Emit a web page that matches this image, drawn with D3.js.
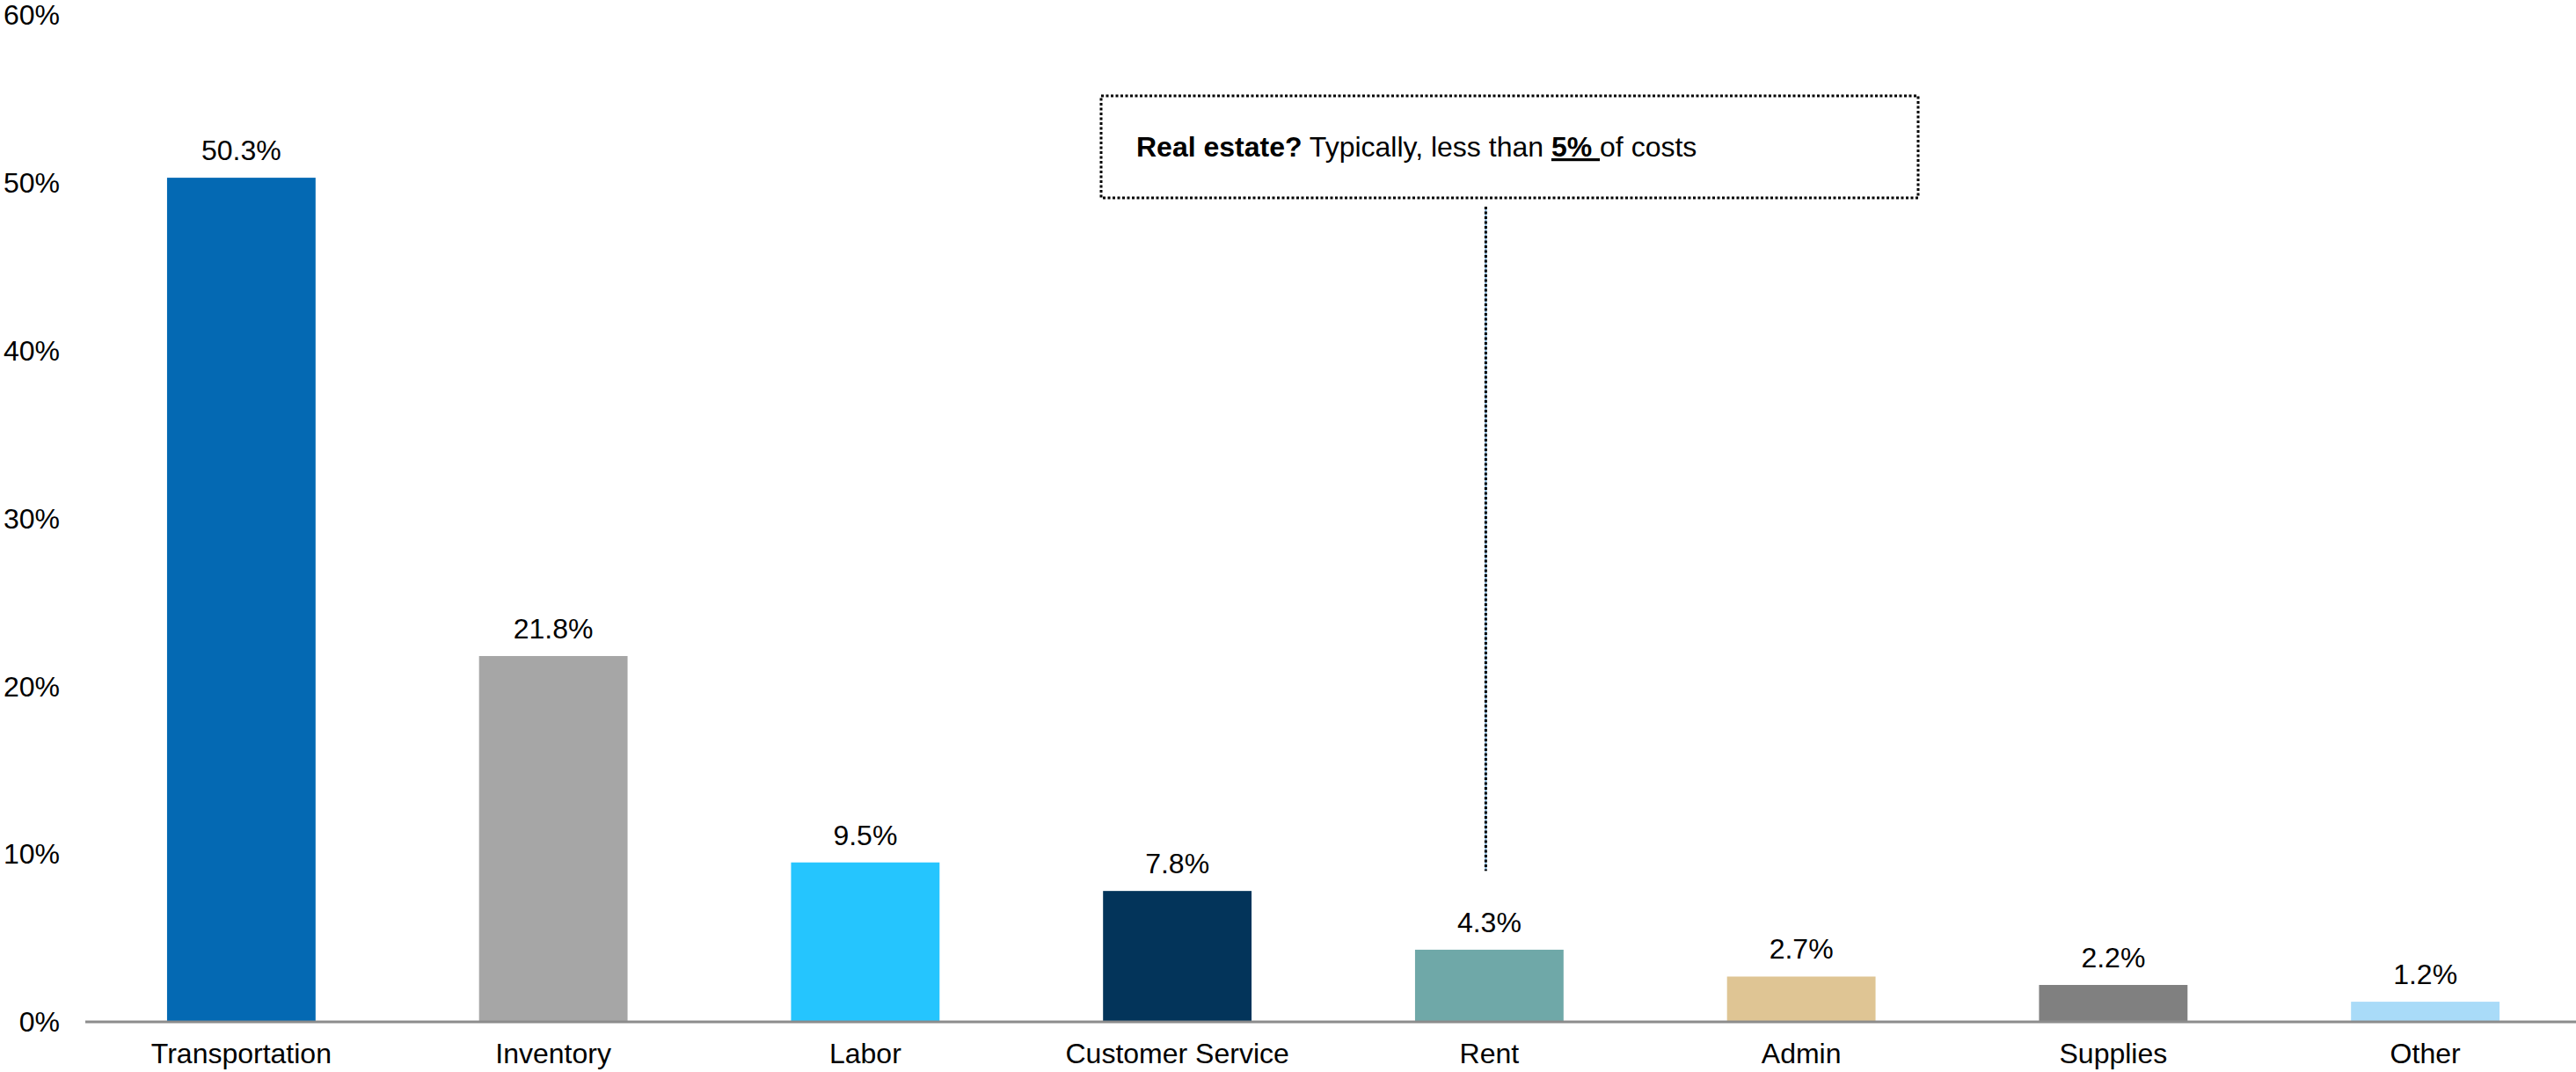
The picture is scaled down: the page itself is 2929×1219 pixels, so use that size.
<!DOCTYPE html>
<html>
<head>
<meta charset="utf-8">
<script src="https://cdn.jsdelivr.net/npm/d3@7/dist/d3.min.js"></script>
<style>
  html, body { margin: 0; padding: 0; background: #ffffff; }
  svg { display: block; font-family: "Liberation Sans", Arial, sans-serif; }
</style>
</head>
<body>
<svg id="chart" width="2929" height="1219"></svg>
<script>
// Share of logistics cost by category (%)
const categories = ["Transportation", "Inventory", "Labor", "Customer Service", "Rent", "Admin", "Supplies", "Other"];
const values = [50.3, 21.8, 9.5, 7.8, 4.3, 2.7, 2.2, 1.2];
const barColors = ["#0469b3", "#a6a6a6", "#25c5fe", "#03345a", "#6fa8a8", "#dfc594", "#808080", "#a9dbf8"];
const yTicks = [0, 10, 20, 30, 40, 50, 60];

const svg = d3.select("#chart");
const W = 2929;
const fontSize = 32;

const x = d3.scaleBand()
  .domain(categories)
  .range([97, 2935])
  .paddingInner(0.524)
  .paddingOuter(0.262);

const y = d3.scaleLinear()
  .domain([0, 60])
  .range([1162, 17]);

// y tick labels (no axis line, no gridlines)
svg.append("g")
  .selectAll("text")
  .data(yTicks)
  .join("text")
  .attr("x", 68)
  .attr("y", d => y(d))
  .attr("dy", "0.35em")
  .attr("text-anchor", "end")
  .attr("font-size", fontSize)
  .attr("fill", "#000")
  .text(d => d + "%");

// bars
svg.append("g")
  .selectAll("rect")
  .data(values)
  .join("rect")
  .attr("x", (d, i) => x(categories[i]))
  .attr("y", d => y(d))
  .attr("width", x.bandwidth())
  .attr("height", d => y(0) - y(d))
  .attr("fill", (d, i) => barColors[i]);

// value labels above bars
svg.append("g")
  .selectAll("text")
  .data(values)
  .join("text")
  .attr("x", (d, i) => x(categories[i]) + x.bandwidth() / 2)
  .attr("y", d => y(d) - 20)
  .attr("text-anchor", "middle")
  .attr("font-size", fontSize)
  .attr("fill", "#000")
  .text(d => d.toFixed(1) + "%");

// category axis
const xAxis = svg.append("g")
  .attr("transform", `translate(0,${y(0)})`)
  .call(d3.axisBottom(x).tickSize(0).tickSizeOuter(0));
xAxis.select(".domain")
  .attr("stroke", "#8c8c8c")
  .attr("stroke-width", 3)
  .attr("d", `M97,0H${W}`);
xAxis.selectAll(".tick text")
  .attr("y", 47)
  .attr("dy", 0)
  .attr("font-size", fontSize)
  .attr("font-family", "'Liberation Sans', Arial, sans-serif")
  .attr("fill", "#000");

// callout: real estate note with dotted leader to the Rent bar
const box = { x0: 1252, y0: 109, x1: 2181, y1: 225 };
const leaderX = x("Rent") + x.bandwidth() / 2 - 4;
const leaderEnd = y(9);

svg.append("line")
  .attr("x1", leaderX).attr("x2", leaderX)
  .attr("y1", box.y1 + 10).attr("y2", leaderEnd)
  .attr("stroke", "#7fb3dc")
  .attr("stroke-width", 2);
svg.append("line")
  .attr("x1", leaderX).attr("x2", leaderX)
  .attr("y1", box.y1 + 10).attr("y2", leaderEnd)
  .attr("stroke", "#000")
  .attr("stroke-width", 3)
  .attr("stroke-dasharray", "3,2.5");

svg.append("rect")
  .attr("x", box.x0).attr("y", box.y0)
  .attr("width", box.x1 - box.x0).attr("height", box.y1 - box.y0)
  .attr("fill", "none")
  .attr("stroke", "#000")
  .attr("stroke-width", 3)
  .attr("stroke-dasharray", "3,2.5");

const note = svg.append("text")
  .attr("x", 1292)
  .attr("y", 178)
  .attr("font-size", fontSize)
  .attr("fill", "#000");
note.append("tspan").attr("font-weight", "bold").text("Real estate?");
note.append("tspan").text(" Typically, less than ");
note.append("tspan").attr("font-weight", "bold").attr("text-decoration", "underline")
  .style("white-space", "pre").text("5% ");
note.append("tspan").text("of costs");
</script>
</body>
</html>
